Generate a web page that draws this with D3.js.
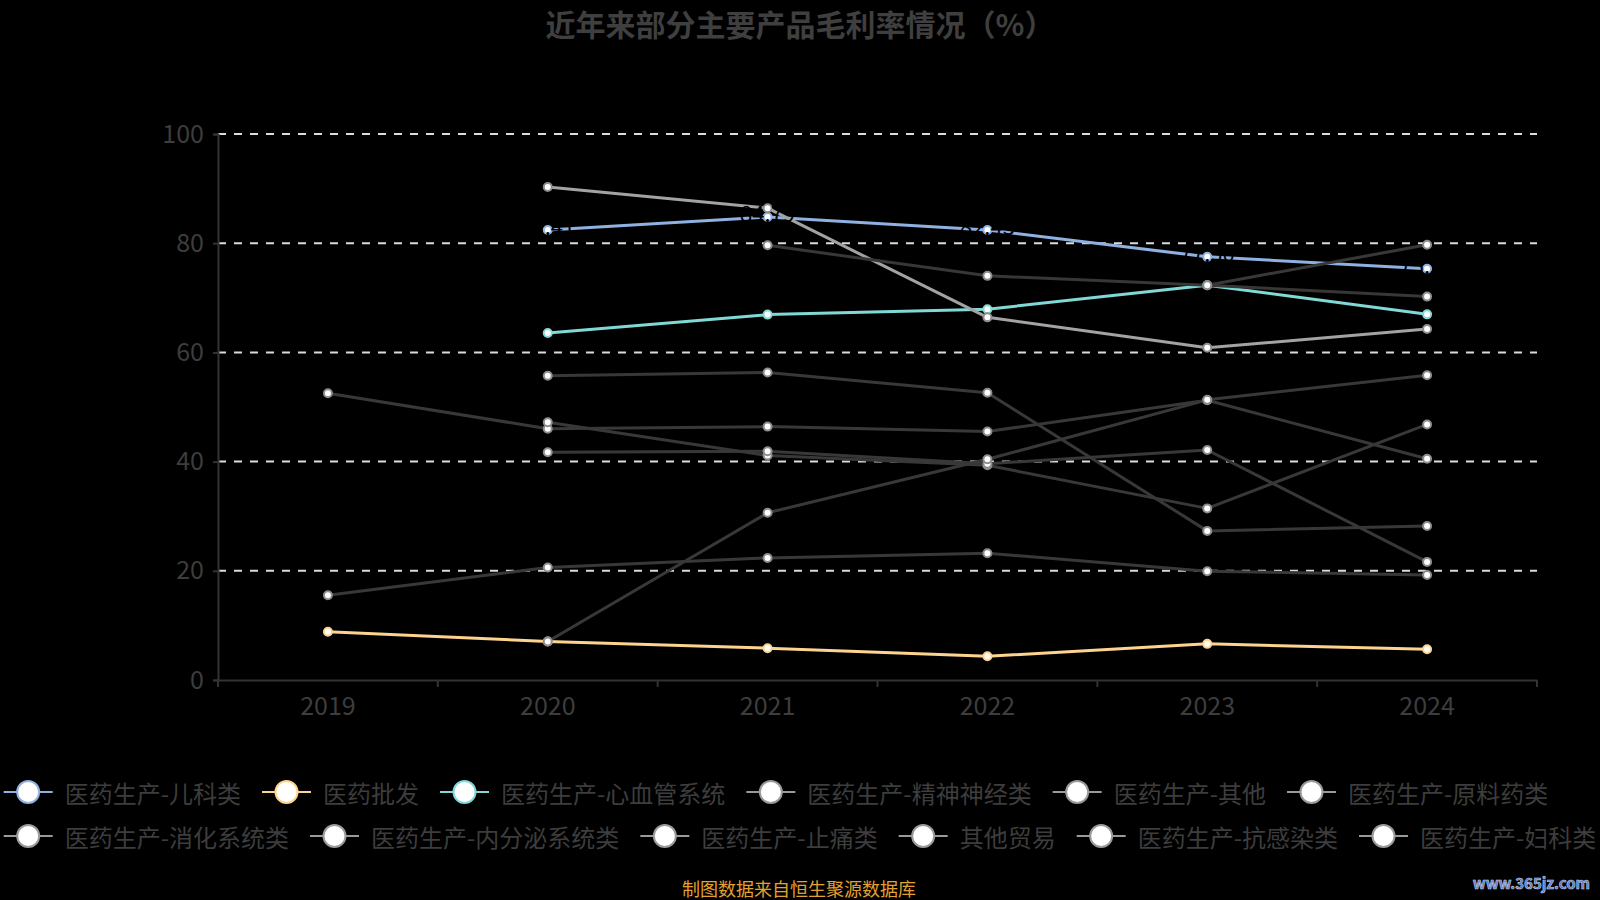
<!DOCTYPE html>
<html>
<head>
<meta charset="utf-8">
<script src="https://cdn.jsdelivr.net/npm/d3@7"></script>
<style>
  html, body { margin: 0; padding: 0; background: #000; }
  svg { display: block; }
  text { font-family: "Noto Sans CJK SC", "Noto Sans", sans-serif; }
</style>
</head>
<body>
<svg id="chart" width="1600" height="900"></svg>
<script>
// ---------- data ----------
const title = "近年来部分主要产品毛利率情况（%）";
const years = ["2019", "2020", "2021", "2022", "2023", "2024"];
const yTicks = [0, 20, 40, 60, 80, 100];

const seriesNames = [
  "医药生产-儿科类", "医药批发", "医药生产-心血管系统", "医药生产-精神神经类",
  "医药生产-其他", "医药生产-原料药类", "医药生产-消化系统类", "医药生产-内分泌系统类",
  "医药生产-止痛类", "其他贸易", "医药生产-抗感染类", "医药生产-妇科类"
];

const pediatric     = [null, 82.41, 84.79, 82.43, 77.50, 75.33];
const wholesale     = [8.83, 7.05, 5.82, 4.35, 6.62, 5.62];
const cardio        = [null, 63.54, 66.92, 67.91, 72.29, 66.97];
const neuro         = [null, 90.30, 86.41, 66.42, 60.85, 64.30];
const otherProd     = [null, null, 79.61, 74.02, 72.31, 70.22];
const rawMaterial   = [52.52, 46.02, 46.41, 45.52, 51.24, 40.51];
const digestive     = [null, 55.72, 56.31, 52.62, 27.31, 28.21];
const endocrine     = [null, 47.21, 41.12, 39.32, 31.43, 46.81];
const analgesic     = [null, 41.72, 41.91, 39.62, 42.12, 21.63];
const otherTrade    = [15.52, 20.62, 22.36, 23.21, 19.93, 19.22];
const antiInfective = [null, 7.05, 30.62, 40.42, 51.31, 55.82];
const gynecology    = [null, null, null, null, 72.31, 79.71];

const footer = "制图数据来自恒生聚源数据库";
const watermark = "www.365jz.com";

// ---------- styles ----------
const seriesValues = [pediatric, wholesale, cardio, neuro, otherProd, rawMaterial,
  digestive, endocrine, analgesic, otherTrade, antiInfective, gynecology];
const lineColors = ["#8fb1e2", "#fdd48e", "#80d9d5", "#a3a3a3", "#373737", "#383838",
  "#383838", "#383838", "#383838", "#383838", "#383838", "#383838"];
const pointStroke = ["#8fb1e2", "#fdd48e", "#80d9d5", "#8c8c8c", "#8c8c8c", "#8c8c8c",
  "#8c8c8c", "#8c8c8c", "#8c8c8c", "#8c8c8c", "#8c8c8c", "#8c8c8c"];
const legendColors = ["#8fb1e2", "#fdd48e", "#80d9d5", "#9a9a9a", "#9a9a9a", "#9a9a9a",
  "#9a9a9a", "#9a9a9a", "#9a9a9a", "#9a9a9a", "#9a9a9a", "#9a9a9a"];
const showLabels = [true, false, false, false, false, false, false, false, false, false, false, false];

const series = seriesNames.map((name, i) => ({
  name, values: seriesValues[i], color: lineColors[i], pstroke: pointStroke[i],
  lcolor: legendColors[i], label: showLabels[i]
}));

// ---------- layout ----------
const W = 1600, H = 900;
const grid = { left: 218, right: 1537, top: 134, bottom: 680 };
const textColor = "#3d3d3d";
const axisColor = "#333333";

const svg = d3.select("#chart");
svg.append("rect").attr("width", W).attr("height", H).attr("fill", "#000");

const x = d3.scaleBand().domain(years).range([grid.left, grid.right]).paddingInner(0).paddingOuter(0);
const y = d3.scaleLinear().domain([0, 100]).range([grid.bottom, grid.top]);
const cx = d => x(d) + x.bandwidth() / 2;

// title
svg.append("text")
  .attr("x", W / 2).attr("y", 23)
  .attr("text-anchor", "middle").attr("dominant-baseline", "central")
  .attr("font-size", 30).attr("font-weight", "bold").attr("fill", "#3f3f3f")
  .text(title);

// gridlines
svg.append("g").selectAll("line").data(yTicks.filter(t => t > 0)).join("line")
  .attr("x1", grid.left).attr("x2", grid.right)
  .attr("y1", d => y(d)).attr("y2", d => y(d))
  .attr("stroke", "#dcdcdc").attr("stroke-width", 2).attr("stroke-dasharray", "8,8");

// y axis
const yAxis = d3.axisLeft(y).tickValues(yTicks).tickSize(5).tickPadding(9);
const gy = svg.append("g").attr("transform", `translate(${grid.left},0)`).call(yAxis);
gy.select(".domain").attr("stroke", axisColor).attr("stroke-width", 2);
gy.selectAll(".tick line").attr("stroke", axisColor).attr("stroke-width", 2);
gy.selectAll(".tick text").attr("fill", textColor).attr("font-size", 25)
  .attr("font-family", "'Noto Sans CJK SC', 'Noto Sans', sans-serif");

// x axis
const xAxis = d3.axisBottom(x).tickSize(0).tickPadding(17);
const gx = svg.append("g").attr("transform", `translate(0,${grid.bottom})`).call(xAxis);
gx.select(".domain").attr("stroke", axisColor).attr("stroke-width", 2);
gx.selectAll(".tick text").attr("fill", textColor).attr("font-size", 25)
  .attr("font-family", "'Noto Sans CJK SC', 'Noto Sans', sans-serif");
// band boundary ticks
const boundaries = years.map(d => x(d)).concat([grid.right]);
svg.append("g").selectAll("line").data(boundaries).join("line")
  .attr("x1", d => d).attr("x2", d => d)
  .attr("y1", grid.bottom).attr("y2", grid.bottom + 7)
  .attr("stroke", axisColor).attr("stroke-width", 2);

// lines and points
const line = d3.line()
  .defined(d => d.v != null)
  .x(d => cx(d.year)).y(d => y(d.v));

const plot = svg.append("g");
series.forEach(s => {
  const pts = years.map((yr, i) => ({ year: yr, v: s.values[i] }));
  const g = plot.append("g");
  g.append("path").datum(pts)
    .attr("d", line).attr("fill", "none")
    .attr("stroke", s.color).attr("stroke-width", 3)
    .attr("stroke-linejoin", "round").attr("stroke-linecap", "round");
  g.selectAll("circle").data(pts.filter(d => d.v != null)).join("circle")
    .attr("cx", d => cx(d.year)).attr("cy", d => y(d.v))
    .attr("r", 4).attr("fill", "#fff")
    .attr("stroke", s.pstroke).attr("stroke-width", 2);
});

// labels (dark, overlapping the line as in the original)
series.filter(s => s.label).forEach(s => {
  const pts = years.map((yr, i) => ({ year: yr, v: s.values[i] })).filter(d => d.v != null);
  svg.append("g").selectAll("text").data(pts).join("text")
    .attr("x", d => cx(d.year)).attr("y", d => y(d.v) - 5)
    .attr("text-anchor", "middle").attr("dominant-baseline", "central")
    .attr("font-size", 22).attr("fill", "#000")
    .text(d => d3.format(".2f")(d.v));
});

// legend
const perRow = 6;
const iconW = 49, textGap = 12, itemGap = 21;
const rowY = [792, 836];
const legend = svg.append("g");
const items = series.map((s, i) => {
  const g = legend.append("g");
  const t = g.append("text")
    .attr("x", iconW + textGap).attr("y", 0)
    .attr("dominant-baseline", "central")
    .attr("font-size", 24).attr("fill", textColor)
    .text(s.name);
  const tw = t.node().getComputedTextLength();
  g.append("line").attr("x1", 0).attr("x2", iconW).attr("y1", 0).attr("y2", 0)
    .attr("stroke", s.lcolor).attr("stroke-width", 2);
  g.append("circle").attr("cx", iconW / 2).attr("cy", 0).attr("r", 11)
    .attr("fill", "#fff").attr("stroke", s.lcolor).attr("stroke-width", 2);
  return { g, w: iconW + textGap + tw };
});
const rows = [items.slice(0, perRow), items.slice(perRow)];
const rowWidths = rows.map(r => d3.sum(r, d => d.w) + itemGap * (r.length - 1));
const startX = (W - d3.max(rowWidths)) / 2;
rows.forEach((r, ri) => {
  let xx = startX;
  r.forEach(it => {
    it.g.attr("transform", `translate(${xx},${rowY[ri]})`);
    xx += it.w + itemGap;
  });
});

// footer
svg.append("text")
  .attr("x", 799).attr("y", 888)
  .attr("text-anchor", "middle").attr("dominant-baseline", "central")
  .attr("font-size", 18).attr("fill", "#e3a130")
  .text(footer);

// watermark
svg.append("text")
  .attr("x", 1590).attr("y", 882)
  .attr("text-anchor", "end").attr("dominant-baseline", "central")
  .attr("font-size", 15).attr("font-weight", "bold")
  .attr("font-family", "'Liberation Sans Narrow', 'DejaVu Sans Condensed', sans-serif")
  .attr("fill", "#5878c0").attr("stroke", "#c8d4ee").attr("stroke-width", 0.6)
  .text(watermark);
</script>
</body>
</html>
